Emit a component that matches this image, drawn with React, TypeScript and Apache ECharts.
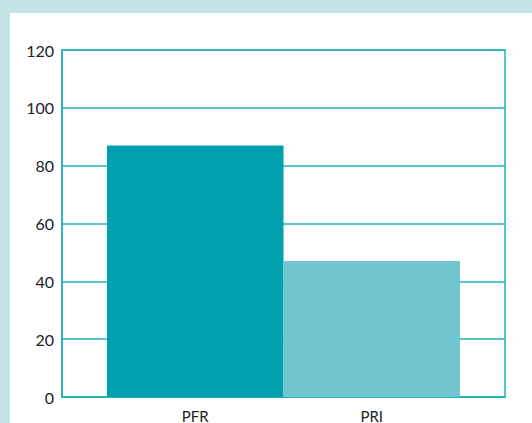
import React, { useEffect, useRef } from "react";
import * as echarts from "echarts";

const categories = ["PFR", "PRI"];
const values = [87, 47];
const barColors = ["#00a0ae", "#71c5cf"];
const yTicks = { min: 0, max: 120, interval: 20 };

export default function App() {
  const ref = useRef<HTMLDivElement>(null);
  useEffect(() => {
    if (!ref.current) return;
    const chart = echarts.init(ref.current, null, { renderer: "svg" });
    const teal = "#21b0bd";
    const font = "Lato, 'Open Sans', sans-serif";
    chart.setOption({
      animation: false,
      backgroundColor: "#c6e4e8",
      graphic: [
        {
          type: "rect",
          z: -10,
          silent: true,
          shape: { x: 10, y: 13, width: 522, height: 410 },
          style: { fill: "#ffffff" },
        },
      ],
      grid: [
        {
          left: 62,
          right: 27,
          top: 50,
          bottom: 26,
          containLabel: false,
          outerBoundsMode: "none",
          show: true,
          borderColor: teal,
          borderWidth: 1.5,
          backgroundColor: "transparent",
        },
        {
          left: 107,
          right: 72,
          top: 50,
          bottom: 26,
          containLabel: false,
          outerBoundsMode: "none",
        },
      ],
      xAxis: [
        {
          gridIndex: 0,
          type: "category",
          data: [""],
          axisLine: { show: true, lineStyle: { color: teal, width: 1.5 } },
          axisTick: { show: false },
          axisLabel: { show: false },
        },
        {
          gridIndex: 1,
          type: "category",
          data: categories,
          axisLine: { show: false },
          axisTick: { show: false },
          axisLabel: {
            color: "#222",
            fontSize: 15,
            lineHeight: 15,
            fontFamily: font,
            margin: 11,
          },
        },
      ],
      yAxis: [
        {
          gridIndex: 0,
          type: "value",
          min: yTicks.min,
          max: yTicks.max,
          interval: yTicks.interval,
          axisLine: { show: true, lineStyle: { color: teal, width: 1.5 } },
          axisTick: { show: false },
          axisLabel: { color: "#222", fontSize: 16, fontFamily: font, margin: 8 },
          splitLine: { show: true, lineStyle: { color: teal, width: 1.5 } },
        },
        {
          gridIndex: 1,
          type: "value",
          min: yTicks.min,
          max: yTicks.max,
          interval: yTicks.interval,
          show: false,
          splitLine: { show: false },
        },
      ],
      series: [
        {
          type: "bar",
          xAxisIndex: 1,
          yAxisIndex: 1,
          barCategoryGap: "0%",
          data: values.map((v, i) => ({ value: v, itemStyle: { color: barColors[i] } })),
        },
      ],
    });
    return () => chart.dispose();
  }, []);
  return (
    <div
      ref={ref}
      style={{ position: "fixed", left: 0, top: 0, width: 532, height: 423 }}
    />
  );
}
